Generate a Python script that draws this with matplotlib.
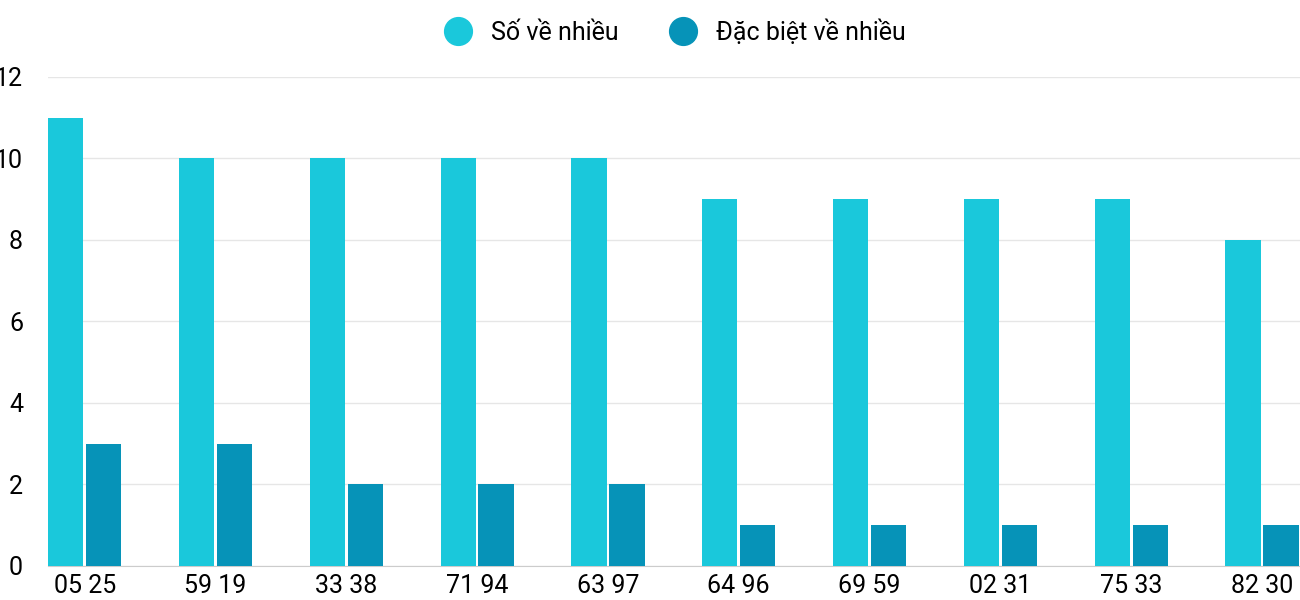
import matplotlib
matplotlib.use("Agg")
import matplotlib.pyplot as plt
import numpy as np
from matplotlib.lines import Line2D

categories = ["05 25", "59 19", "33 38", "71 94", "63 97", "64 96", "69 59", "02 31", "75 33", "82 30"]
so_ve_nhieu = [11, 10, 10, 10, 10, 9, 9, 9, 9, 8]
dac_biet = [3, 3, 2, 2, 2, 1, 1, 1, 1, 1]

plt.rcParams['font.family'] = ['Roboto', 'DejaVu Sans']
fig = plt.figure(figsize=(13, 6), dpi=100)
ax = fig.add_axes([0.037, 0.057, 0.963, 0.815])
x = np.arange(len(categories))
w = 0.27
ax.bar(x - 0.145, so_ve_nhieu, w, color="#1AC8DB", zorder=3)
ax.bar(x + 0.145, dac_biet, w, color="#0693B8", zorder=3)
ax.set_xlim(-0.28, 9.29)
ax.set_ylim(0, 12)
ax.set_yticks(range(0, 13, 2))
ax.set_xticks(x)
ax.set_xticklabels(categories, fontsize=18)
ax.tick_params(axis='y', labelsize=18, length=0, pad=18)
ax.tick_params(axis='x', length=0, pad=6)
ax.grid(axis='y', color="#E6E6E6", linewidth=1, zorder=0)
for s in ["top", "right", "left"]:
    ax.spines[s].set_visible(False)
ax.spines["bottom"].set_color("#CCCCCC")
handles = [Line2D([], [], marker='o', ls='', markersize=20, color=c) for c in ["#1AC8DB", "#0693B8"]]
fig.legend(handles, ["Số về nhiều", "Đặc biệt về nhiều"], loc="upper center",
           bbox_to_anchor=(0.515, 1.005), ncol=2, frameon=False, fontsize=18,
           handletextpad=0.3, columnspacing=1.6)
fig.savefig("out.png")
